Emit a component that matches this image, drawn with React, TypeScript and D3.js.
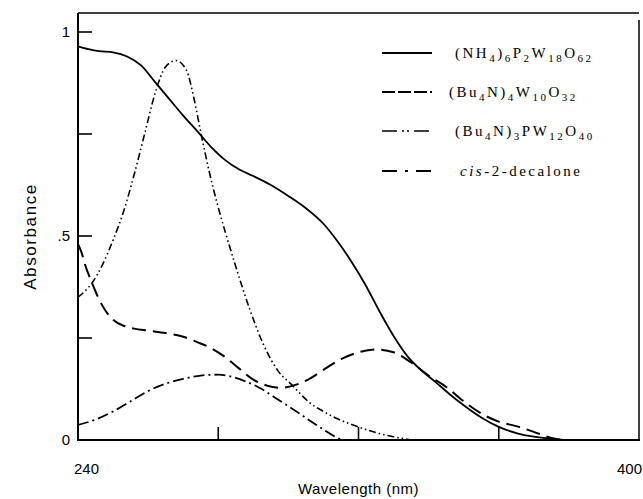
import React, { useEffect, useRef } from 'react';
import * as d3 from 'd3';

// values: wavelength (nm) and absorbance
const nh4Wl = [240, 243, 246, 250, 254, 258, 262, 266, 270, 274, 278, 282, 286, 290, 295, 300, 305, 310, 314, 318, 322, 326, 330, 334, 338, 342, 346, 350, 355, 360, 365, 370, 375, 380];
const nh4Abs = [0.965, 0.958, 0.953, 0.95, 0.94, 0.918, 0.877, 0.836, 0.795, 0.757, 0.718, 0.686, 0.663, 0.647, 0.625, 0.598, 0.568, 0.53, 0.487, 0.437, 0.38, 0.315, 0.255, 0.205, 0.17, 0.142, 0.112, 0.085, 0.055, 0.032, 0.017, 0.008, 0.003, 0];

const w10Wl = [240, 241, 242, 244, 246, 248, 250, 253, 256, 260, 265, 270, 274, 278, 282, 286, 290, 294, 298, 302, 306, 310, 315, 320, 325, 330, 335, 340, 345, 350, 355, 360, 365, 370, 375, 378];
const w10Abs = [0.48, 0.46, 0.43, 0.385, 0.345, 0.315, 0.295, 0.28, 0.273, 0.268, 0.262, 0.253, 0.24, 0.225, 0.203, 0.175, 0.148, 0.133, 0.128, 0.135, 0.15, 0.172, 0.198, 0.215, 0.222, 0.215, 0.19, 0.158, 0.13, 0.095, 0.065, 0.045, 0.034, 0.02, 0.005, 0];

const pw12Wl = [240, 242, 244, 247, 250, 253, 256, 259, 262, 265, 268, 271, 273, 275, 277.5, 280, 282, 285, 289, 293, 297, 301, 306, 310, 314, 320, 325, 330, 335];
const pw12Abs = [0.35, 0.365, 0.385, 0.43, 0.49, 0.56, 0.65, 0.75, 0.85, 0.915, 0.93, 0.905, 0.84, 0.755, 0.655, 0.57, 0.51, 0.425, 0.32, 0.232, 0.17, 0.135, 0.092, 0.07, 0.052, 0.032, 0.018, 0.008, 0];

const decalWl = [240, 245, 250, 255, 260, 265, 270, 275, 280, 284, 288, 292, 296, 300, 304, 308, 311, 314, 315.5];
const decalAbs = [0.037, 0.05, 0.07, 0.095, 0.12, 0.138, 0.15, 0.158, 0.16, 0.155, 0.143, 0.127, 0.105, 0.083, 0.06, 0.037, 0.02, 0.005, 0];

const yTicks = [0, 0.25, 0.5, 0.75, 1];
const yTickLabels = ['0', '', '.5', '', '1'];
const xTicks = [240, 280, 320, 360, 400];
const xTickLabels = ['240', '', '', '', '400'];

// legend names as [text, kind]: 0 normal, 1 subscript, 2 italic
const legendNames: [string, number][][] = [
  [['(NH', 0], ['4', 1], [')', 0], ['6', 1], ['P', 0], ['2', 1], ['W', 0], ['18', 1], ['O', 0], ['62', 1]],
  [['(Bu', 0], ['4', 1], ['N)', 0], ['4', 1], ['W', 0], ['10', 1], ['O', 0], ['32', 1]],
  [['(Bu', 0], ['4', 1], ['N)', 0], ['3', 1], ['PW', 0], ['12', 1], ['O', 0], ['40', 1]],
  [['cis', 2], ['-2-decalone', 0]],
];

function Chart() {
  const ref = useRef<SVGSVGElement>(null);

  useEffect(() => {
    const svg = d3.select(ref.current);
    svg.selectAll('*').remove();

    const width = 643, height = 499;
    const left = 78, right = 639, top = 13, bottom = 440;

    const x = d3.scaleLinear().domain([240, 400]).range([left, right]);
    const y = d3.scaleLinear().domain([0, 1]).range([bottom, 32]);

    svg.attr('width', width).attr('height', height);

    // frame
    svg.append('line').attr('x1', left).attr('x2', left).attr('y1', top).attr('y2', bottom)
      .attr('stroke', '#000').attr('stroke-width', 2);
    svg.append('line').attr('x1', left - 1).attr('x2', right + 1).attr('y1', bottom).attr('y2', bottom)
      .attr('stroke', '#000').attr('stroke-width', 2);
    svg.append('line').attr('x1', left).attr('x2', right).attr('y1', top).attr('y2', top)
      .attr('stroke', '#000').attr('stroke-width', 1.5);
    svg.append('line').attr('x1', right).attr('x2', right).attr('y1', top + 7).attr('y2', bottom)
      .attr('stroke', '#000').attr('stroke-width', 1.5);

    // inward ticks
    yTicks.forEach((t, i) => {
      if (t > 0) {
        svg.append('line').attr('x1', left).attr('x2', left + 14).attr('y1', y(t)).attr('y2', y(t))
          .attr('stroke', '#000').attr('stroke-width', 1.6);
      }
      if (yTickLabels[i]) {
        svg.append('text').attr('x', left - 8).attr('y', y(t) + 5)
          .attr('text-anchor', 'end').attr('font-family', 'Liberation Sans, Arial, sans-serif')
          .attr('font-size', 15).text(yTickLabels[i]);
      }
    });
    xTicks.forEach((t, i) => {
      if (t > 240 && t < 400) {
        svg.append('line').attr('x1', x(t)).attr('x2', x(t)).attr('y1', bottom).attr('y2', bottom - 13)
          .attr('stroke', '#000').attr('stroke-width', 1.6);
      }
      if (xTickLabels[i]) {
        svg.append('text').attr('x', i === 0 ? x(t) - 4 : x(t) + 3).attr('y', bottom + 34)
          .attr('text-anchor', i === 0 ? 'start' : 'end')
          .attr('font-family', 'Liberation Sans, Arial, sans-serif')
          .attr('font-size', 15).text(xTickLabels[i]);
      }
    });

    // axis titles
    svg.append('text').attr('x', (left + right) / 2).attr('y', 494)
      .attr('text-anchor', 'middle').attr('font-family', 'Liberation Sans, Arial, sans-serif')
      .attr('font-size', 15).attr('letter-spacing', 0.5).text('Wavelength (nm)');
    svg.append('text').attr('transform', `translate(36,${(top + bottom) / 2 + 10}) rotate(-90)`)
      .attr('text-anchor', 'middle').attr('font-family', 'Liberation Sans, Arial, sans-serif')
      .attr('font-size', 17).attr('letter-spacing', 1.6).text('Absorbance');

    const series = [
      { wl: nh4Wl, abs: nh4Abs, dash: null, w: 1.8, legendDash: null },
      { wl: w10Wl, abs: w10Abs, dash: '14,7', w: 2, legendDash: '13,3' },
      { wl: pw12Wl, abs: pw12Abs, dash: '7,3,1.5,3,1.5,3', w: 1.6, legendDash: '15,5,2,3,2,5' },
      { wl: decalWl, abs: decalAbs, dash: '11,4,2,4', w: 1.8, legendDash: '15,8,3,8' },
    ];

    const line = d3.line<number>()
      .curve(d3.curveMonotoneX);

    series.forEach((s) => {
      line.x((_, i) => x(s.wl[i])).y((d) => y(d));
      svg.append('path')
        .attr('d', line(s.abs))
        .attr('fill', 'none')
        .attr('stroke', '#000')
        .attr('stroke-width', s.w)
        .attr('stroke-dasharray', s.dash);
    });

    // legend
    const legendY = [53, 92, 131, 171];
    series.forEach((s, i) => {
      svg.append('line').attr('x1', 382).attr('x2', 432).attr('y1', legendY[i]).attr('y2', legendY[i])
        .attr('stroke', '#000').attr('stroke-width', s.w)
        .attr('stroke-dasharray', s.legendDash);
      const txt = svg.append('text')
        .attr('x', i === 1 ? 449 : i === 3 ? 460 : 455)
        .attr('y', legendY[i] + 5)
        .attr('font-family', 'Liberation Serif, Times New Roman, serif')
        .attr('font-size', 15)
        .attr('letter-spacing', 2.5);
      let low = false;
      legendNames[i].forEach(([str, kind]) => {
        const ts = txt.append('tspan').text(str);
        if (kind === 1) {
          ts.attr('font-size', 11).attr('dy', low ? 0 : 4);
          low = true;
        } else {
          ts.attr('dy', low ? -4 : 0);
          low = false;
          if (kind === 2) ts.attr('font-style', 'italic');
        }
      });
    });
  }, []);

  return <svg ref={ref} style={{ position: 'absolute', left: 0, top: 0, background: '#fff' }}></svg>;
}

export default function App() {
  return <Chart />;
}
